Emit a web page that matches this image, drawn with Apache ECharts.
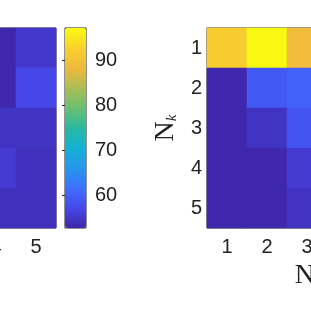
<!DOCTYPE html>
<html>
<head>
<meta charset="utf-8">
<script src="https://cdn.jsdelivr.net/npm/echarts@6/dist/echarts.min.js"></script>
<style>html,body{margin:0;padding:0;background:#fff;}#c{width:311px;height:311px;}</style>
</head>
<body>
<div id="c"></div>
<script>
// categories
var cats = ['1', '2', '3', '4', '5'];
// colorbar
var cbMin = 52.7, cbMax = 97.3;
var cbTicks = [60, 70, 80, 90];
// left heatmap (only columns 4 and 5 visible) : [col, row, value]
var leftCol4 = [53.0, 53.0, 54.5, 55.5, 54.0];
var leftCol5 = [55.0, 57.0, 54.5, 54.0, 54.0];
// right heatmap (only columns 1..3 visible), rows N_k = 1..5
var rightCol1 = [92.0, 53.0, 53.0, 53.0, 53.0];
var rightCol2 = [97.0, 59.0, 54.5, 53.0, 53.0];
var rightCol3 = [89.0, 60.0, 58.5, 55.5, 54.5];

var parula = ['#3e26a8', '#4748eb', '#3e70ff', '#2797eb', '#12b1d4', '#2bb9a0',
              '#6abf70', '#abbd55', '#eeb93c', '#f9d12c', '#f9fb0e'];

function cols(list, startIdx) {
  var out = [];
  list.forEach(function (col, ci) {
    col.forEach(function (v, ri) { out.push([startIdx + ci, ri, v]); });
  });
  return out;
}
var leftData = cols([leftCol4, leftCol5], 3);
var rightData = cols([rightCol1, rightCol2, rightCol3], 0);

var ink = '#222222';
var font = "'Liberation Sans', Arial, sans-serif";
var fs = 20;
function catX(gi, pos, labels, extra) {
  return Object.assign({
    type: 'category', gridIndex: gi, data: cats, position: pos,
    axisLine: { show: false },
    axisTick: { show: true, inside: true, alignWithLabel: true, length: 3, lineStyle: { color: ink } },
    axisLabel: { show: labels, color: ink, fontSize: fs, fontFamily: font, margin: 9 },
    splitLine: { show: false }
  }, extra || {});
}
function catY(gi, pos, labels, extra) {
  return Object.assign({
    type: 'category', gridIndex: gi, data: cats, position: pos, inverse: true,
    axisLine: { show: false },
    axisTick: { show: true, inside: true, alignWithLabel: true, length: 3, lineStyle: { color: ink } },
    axisLabel: { show: labels, color: ink, fontSize: fs, fontFamily: font, margin: 5 },
    splitLine: { show: false }
  }, extra || {});
}

var nameRich = {
  n: { fontFamily: "'Liberation Serif', 'DejaVu Serif', serif", fontSize: 28, color: ink },
  k: { fontFamily: "'Liberation Serif', 'DejaVu Serif', serif", fontSize: 15, fontStyle: 'italic', color: ink, verticalAlign: 'bottom', padding: [10, 0, 0, 0] }
};

var gridBase = { show: true, borderColor: ink, borderWidth: 1, backgroundColor: 'transparent', containLabel: false, outerBoundsMode: 'none' };
var chart = echarts.init(document.getElementById('c'), null, { renderer: 'canvas' });
chart.setOption({
  animation: false,
  backgroundColor: '#ffffff',
  grid: [
    Object.assign({ left: -144, top: 28, width: 200, height: 200 }, gridBase),
    Object.assign({ left: 65, top: 28, width: 21, height: 200 }, gridBase),
    Object.assign({ left: 207, top: 28, width: 200, height: 200 }, gridBase)
  ],
  visualMap: {
    type: 'continuous', min: cbMin, max: cbMax, seriesIndex: [0, 1],
    left: 65, top: 28, itemWidth: 21, itemHeight: 200, padding: 0,
    calculable: false, showLabel: false, text: null, hoverLink: false,
    inRange: { color: parula }
  },
  xAxis: [
    catX(0, 'bottom', true),
    catX(0, 'top', false),
    { type: 'value', gridIndex: 1, show: false, min: 0, max: 1 },
    catX(2, 'bottom', true, {
      name: '{n|N}{k|l}', nameLocation: 'middle', nameGap: 29,
      nameTextStyle: { rich: nameRich }
    }),
    catX(2, 'top', false)
  ],
  yAxis: [
    catY(0, 'left', true),
    catY(0, 'right', false),
    {
      type: 'value', gridIndex: 1, position: 'right', min: cbMin, max: cbMax,
      axisLine: { show: false },
      splitLine: { show: false },
      axisTick: { show: true, inside: true, length: 3, customValues: cbTicks, lineStyle: { color: ink } },
      axisLabel: { show: true, color: ink, fontSize: fs, fontFamily: font, margin: 9, customValues: cbTicks }
    },
    catY(2, 'left', true, {
      name: '{n|N}{k|k}', nameLocation: 'middle', nameGap: 27, nameRotate: 90,
      nameTextStyle: { rich: nameRich }
    }),
    catY(2, 'right', false)
  ],
  series: [
    { type: 'heatmap', xAxisIndex: 0, yAxisIndex: 0, data: leftData, itemStyle: { borderWidth: 0 } },
    { type: 'heatmap', xAxisIndex: 3, yAxisIndex: 3, data: rightData, itemStyle: { borderWidth: 0 } }
  ]
});
</script>
</body>
</html>
